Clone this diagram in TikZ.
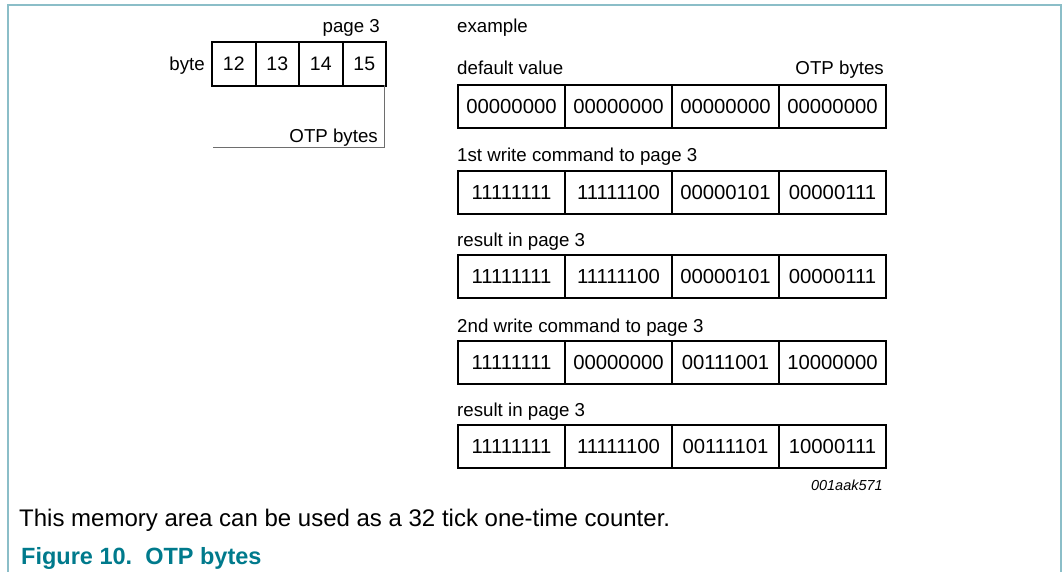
\documentclass[tikz,border=0pt]{standalone}
\usepackage{fontspec}
\setmainfont{Liberation Sans}
\definecolor{framecol}{RGB}{139,190,200}
\definecolor{captcol}{RGB}{0,122,140}
\definecolor{brkcol}{RGB}{110,110,110}
\tikzset{
  widecell/.style={draw, line width=2pt, minimum width=107pt, minimum height=43pt, inner sep=0pt, font=\fontsize{20.3}{24}\selectfont},
  bytecell/.style={draw, line width=2pt, minimum width=43.5pt, minimum height=44pt, inner sep=0pt, font=\fontsize{19.5}{23}\selectfont},
  lbltext/.style={inner sep=0pt, font=\fontsize{18.7}{22}\selectfont},
  bracketline/.style={draw=brkcol, line width=1pt},
}
\begin{document}
\begin{tikzpicture}[x=1pt,y=-1pt]
\useasboundingbox (0,0) rectangle (1062,572);
% frame
\draw[framecol, line width=1.5pt] (8,572) -- (8,5) -- (1061,5) -- (1061,572);

% left: byte cells
\node[bytecell] (c12) at (233.75,64) {12};
\node[bytecell] (c13) at (277.25,64) {13};
\node[bytecell] (c14) at (320.75,64) {14};
\node[bytecell] (c15) at (364.25,64) {15};
\node[lbltext, anchor=base east] (bytelbl) at (205,71) {byte};
\node[lbltext, anchor=base east] (pagelbl) at (380,33) {page 3};
\coordinate (bk) at (384,148);
\coordinate (bl) at (213,148);
\draw[bracketline] (bl) -- (bk) -- ([yshift=2pt]bk |- c15.south);
\node[lbltext, anchor=base east] (otpl) at (378,143) {OTP bytes};

% right: example
\node[lbltext, anchor=base west] (ex) at (457,33) {example};

\node[lbltext, anchor=base west] (l1) at (457,75) {default value};
\node[lbltext, anchor=base east] (l1r) at (884,75) {OTP bytes};
\node[widecell] (a1) at (511.5,106.5) {00000000};
\node[widecell] (a2) at (618.5,106.5) {00000000};
\node[widecell] (a3) at (725.5,106.5) {00000000};
\node[widecell] (a4) at (832.5,106.5) {00000000};

\node[lbltext, anchor=base west] (l2) at (457,162) {1st write command to page 3};
\node[widecell] (b1) at (511.5,192.5) {11111111};
\node[widecell] (b2) at (618.5,192.5) {11111100};
\node[widecell] (b3) at (725.5,192.5) {00000101};
\node[widecell] (b4) at (832.5,192.5) {00000111};

\node[lbltext, anchor=base west] (l3) at (457,246) {result in page 3};
\node[widecell] (r1) at (511.5,276.5) {11111111};
\node[widecell] (r2) at (618.5,276.5) {11111100};
\node[widecell] (r3) at (725.5,276.5) {00000101};
\node[widecell] (r4) at (832.5,276.5) {00000111};

\node[lbltext, anchor=base west] (l4) at (457,332) {2nd write command to page 3};
\node[widecell] (d1) at (511.5,362.5) {11111111};
\node[widecell] (d2) at (618.5,362.5) {00000000};
\node[widecell] (d3) at (725.5,362.5) {00111001};
\node[widecell] (d4) at (832.5,362.5) {10000000};

\node[lbltext, anchor=base west] (l5) at (457,416) {result in page 3};
\node[widecell] (e1) at (511.5,446.5) {11111111};
\node[widecell] (e2) at (618.5,446.5) {11111100};
\node[widecell] (e3) at (725.5,446.5) {00111101};
\node[widecell] (e4) at (832.5,446.5) {10000111};

\node[inner sep=0pt, anchor=base east, font=\fontsize{14.5}{17}\selectfont\itshape] (code) at (883,490) {001aak571};

% captions
\node[inner sep=0pt, anchor=base west, font=\fontsize{24}{28}\selectfont] (note) at (19,526) {This memory area can be used as a 32 tick one-time counter.};
\node[inner sep=0pt, anchor=base west, text=captcol, font=\fontsize{23.5}{28}\selectfont\bfseries] (fig) at (21,564) {Figure 10.\ \ OTP bytes};
\end{tikzpicture}
\end{document}
